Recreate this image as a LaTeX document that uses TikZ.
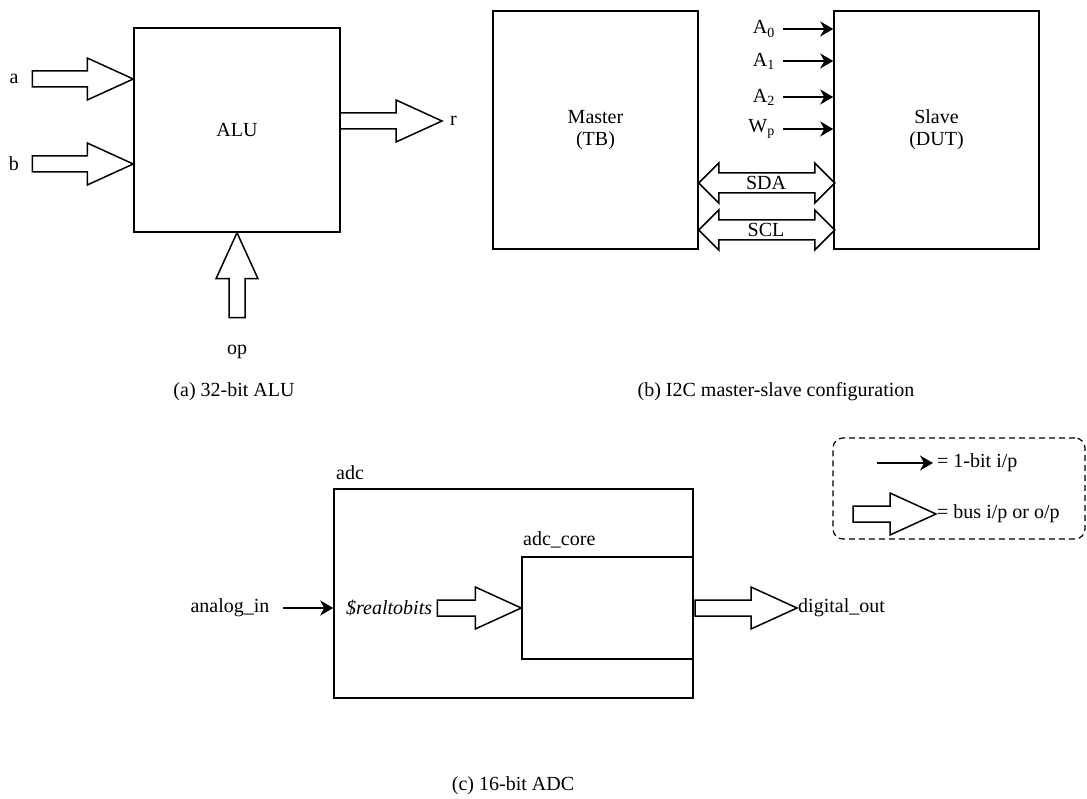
\documentclass[tikz,border=0pt]{standalone}
\usepackage{fontspec}
\setmainfont{Liberation Serif}
\usetikzlibrary{arrows.meta}

\begin{document}
\begin{tikzpicture}[x=1pt,y=-1pt]

\tikzset{
  block/.style={draw, line width=1.5pt, inner sep=0pt, align=center, font=\fontsize{20}{22}\selectfont},
  lbl/.style={inner sep=1pt, font=\fontsize{20}{22}\selectfont},
  bit/.style={line width=1.6pt, -{Stealth[length=13pt,width=15pt,inset=4pt]}},
  bus/.style={draw, line width=1.5pt, fill=white, line join=miter},
  legendbox/.style={draw, line width=1.2pt, dash pattern=on 6pt off 4pt, rounded corners=10pt},
  pics/busarrow/.style={code={\path[bus] (0,0) -- (-46,-21) -- (-46,-8) -- (-#1,-8) -- (-#1,8) -- (-46,8) -- (-46,21) -- cycle;}},
  pics/dbus/.style={code={\path[bus] (0,0) -- (20,-20) -- (20,-10) -- ({#1-20},-10) -- ({#1-20},-20) -- (#1,0) -- ({#1-20},20) -- ({#1-20},10) -- (20,10) -- (20,20) -- cycle;}}
}

\useasboundingbox (0,0) rectangle (1087,799);

\node[block, minimum width=206, minimum height=204] (alu) at (237,130) {ALU};
\node[lbl] (alab) at (14,79) {a};
\node[lbl] (blab) at (14,164) {b};
\node[lbl, anchor=west] (rlab) at (449,121) {r};
\node[lbl] (oplab) at (237,352) {op};
\pic at (alab -| alu.west) {busarrow=101};
\pic at (blab -| alu.west) {busarrow=101};
\pic at ([xshift=-7pt]rlab.west) {busarrow=102};
\pic[rotate=90] at (alu.south) {busarrow=85};
\node[lbl] (capa) at (234,392) {(a) 32-bit ALU};

\node[block, minimum width=205, minimum height=238] (master) at (595.5,130) {Master\\(TB)};
\node[block, minimum width=205, minimum height=238] (slave) at (936.5,130) {Slave\\(DUT)};
\node[lbl, anchor=east] (a0) at (776,29) {A\textsubscript{0}};
\node[lbl, anchor=east] (a1) at (776,61) {A\textsubscript{1}};
\node[lbl, anchor=east] (a2) at (776,97) {A\textsubscript{2}};
\node[lbl, anchor=east] (wp) at (776,129) {W\textsubscript{p}};
\draw[bit, shorten <=7pt] (a0) -- (a0 -| slave.west);
\draw[bit, shorten <=7pt] (a1) -- (a1 -| slave.west);
\draw[bit, shorten <=7pt] (a2) -- (a2 -| slave.west);
\draw[bit, shorten <=7pt] (wp) -- (wp -| slave.west);
\pic at (master.east |- 0,183) {dbus=136};
\pic at (master.east |- 0,230) {dbus=136};
\node[lbl, fill=white] (sda) at (766,183) {SDA};
\node[lbl, fill=white] (scl) at (766,230) {SCL};
\node[lbl] (capb) at (776,392) {(b) I2C master-slave configuration};

\node[legendbox, minimum width=252, minimum height=101] (legend) at (959,488.5) {};
\node[lbl, anchor=west] (onebit) at (936,463) {= 1-bit i/p};
\node[lbl, anchor=west] (buslbl) at (936,514) {= bus i/p or o/p};
\coordinate (obtail) at (877,463);
\draw[bit, shorten >=3pt] (obtail) -- (onebit.west);
\pic at (buslbl.west) {busarrow=83};

\node[block, minimum width=359, minimum height=209] (adc) at (513.5,593.5) {};
\node[block, minimum width=171, minimum height=102] (core) at (607.5,608) {};
\node[lbl, anchor=west] (adclbl) at (335,473) {adc};
\node[lbl, anchor=west] (corelbl) at (522,540) {adc\_core};
\node[lbl] (ain) at (230,608) {analog\_in};
\node[lbl, anchor=west] (rtb) at (345,608) {\textit{\$realtobits}};
\node[lbl, anchor=west] (dout) at (797,608) {digital\_out};
\draw[bit, shorten <=12pt] (ain) -- (ain -| adc.west);
\pic at (core.west) {busarrow=84};
\pic at (dout.west) {busarrow=102};
\node[lbl] (capc) at (513,786) {(c) 16-bit ADC};

\end{tikzpicture}
\end{document}
